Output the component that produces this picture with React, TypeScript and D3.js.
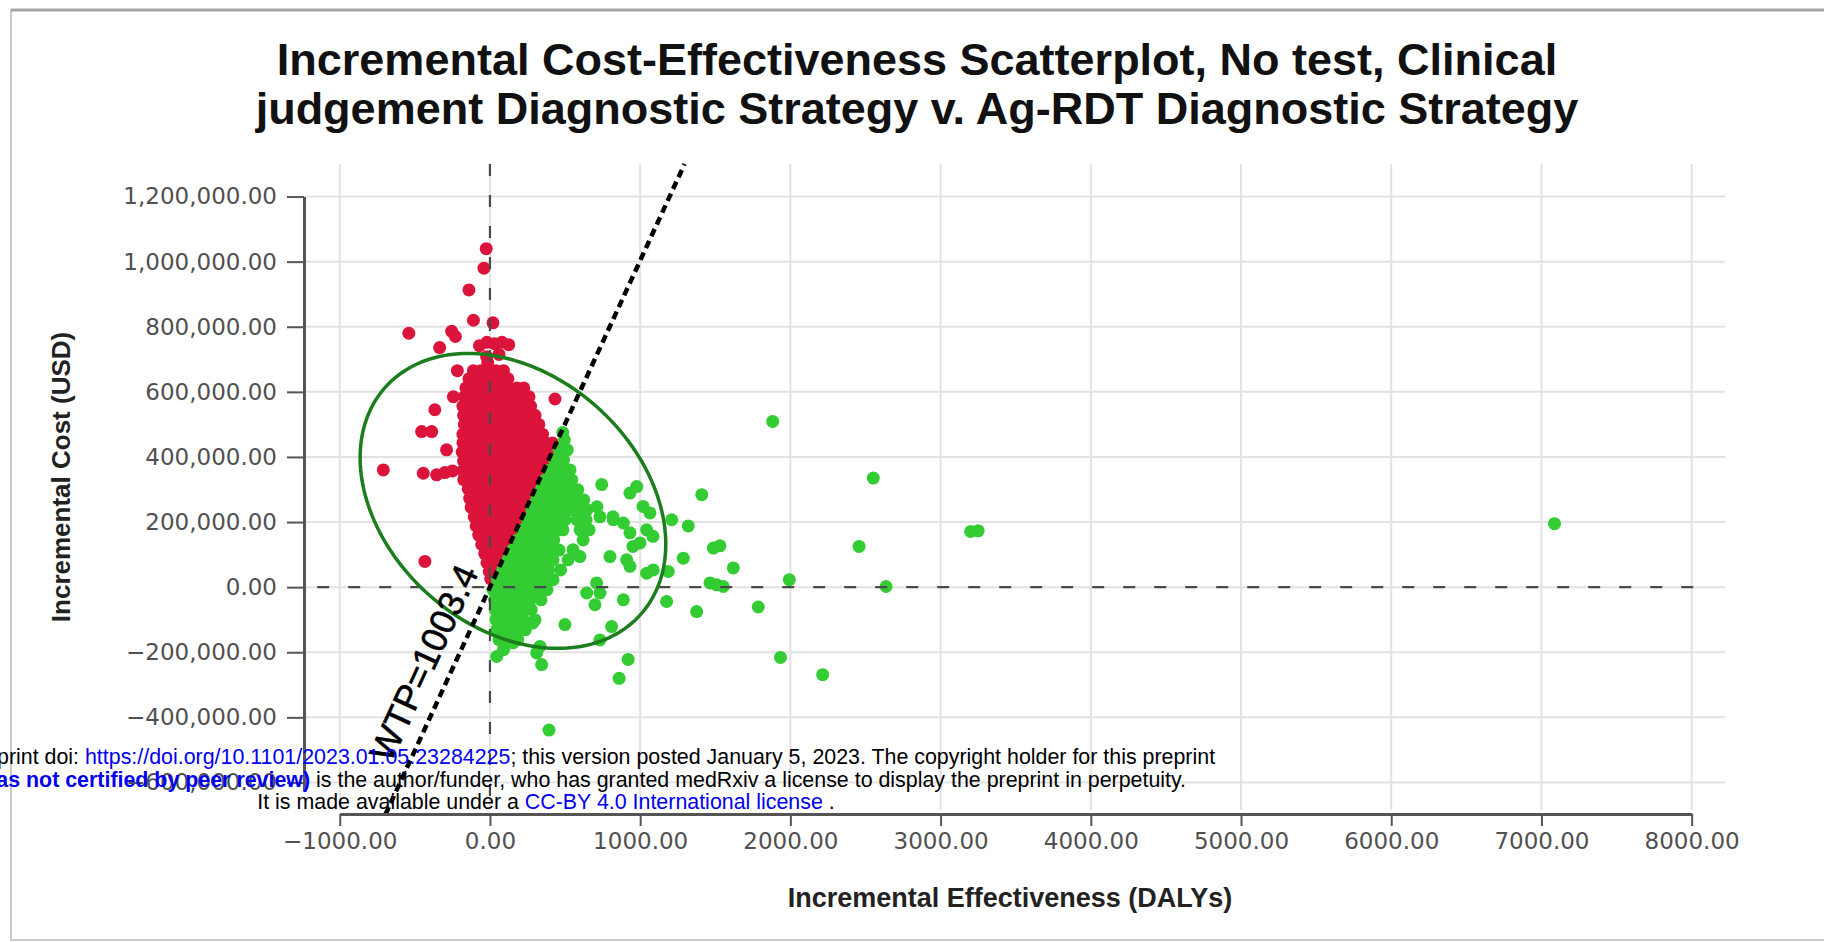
import React, { Component } from 'react';
import * as d3 from 'd3';

// chart text
const titleLines = [
  'Incremental Cost-Effectiveness Scatterplot, No test, Clinical',
  'judgement Diagnostic Strategy v. Ag-RDT Diagnostic Strategy',
];
const xTitle = 'Incremental Effectiveness (DALYs)';
const yTitle = 'Incremental Cost (USD)';

// axis ticks
const xTicks = [-1000, 0, 1000, 2000, 3000, 4000, 5000, 6000, 7000, 8000];
const yTicks = [-600000, -400000, -200000, 0, 200000, 400000, 600000, 800000, 1000000, 1200000];

// willingness to pay (USD per DALY averted)
const wtp = 1003.4;

// dense part of the cloud above the WTP line, one row per cost level: [cost, effects]
const redRows: [number, number[]][] = [
  [665e3, [-110, -60, -10, 40, 90]],
  [640e3, [-140, -85, -30, 25, 80, 120]],
  [612e3, [-160, -100, -45, 10, 65, 120, 180, 225]],
  [585e3, [-170, -115, -55, 0, 55, 110, 165, 220, 260]],
  [556e3, [-180, -120, -60, -5, 50, 105, 160, 215, 270]],
  [528e3, [-175, -125, -65, -10, 45, 100, 155, 210, 265, 300]],
  [500e3, [-170, -120, -60, 0, 55, 110, 165, 220, 275, 325]],
  [470e3, [-180, -125, -70, -15, 40, 95, 150, 205, 260, 310, 350]],
  [443e3, [-180, -130, -70, -10, 45, 100, 160, 215, 270, 320, 370, 415]],
  [415e3, [-185, -130, -70, -15, 40, 95, 150, 205, 260, 315, 360, 395]],
  [387e3, [-175, -125, -65, -10, 45, 100, 155, 210, 260, 310, 365]],
  [358e3, [-180, -130, -70, -15, 40, 95, 150, 205, 255, 300, 340]],
  [330e3, [-175, -120, -65, -10, 45, 100, 155, 205, 250, 300, 315]],
  [302e3, [-145, -100, -50, 0, 55, 110, 160, 210, 255, 285]],
  [273e3, [-135, -85, -35, 15, 70, 120, 170, 215, 255]],
  [245e3, [-125, -75, -25, 30, 85, 135, 180, 225]],
  [216e3, [-105, -55, -5, 50, 100, 150, 195]],
  [188e3, [-92, -40, 15, 65, 115, 160, 175]],
  [160e3, [-75, -20, 30, 80, 125, 145]],
  [131e3, [-55, 0, 50, 95, 118]],
  [103e3, [-35, 15, 60, 90]],
  [75e3, [-20, 25, 60]],
  [48e3, [-5, 30]],
  [25e3, [5]],
];

// loose iterations around the red cloud: [effect, cost]
const redScatter: [number, number][] = [
  [-25, 1040e3], [-40, 980e3], [-140, 913e3], [-110, 820e3], [20, 812e3],
  [-540, 780e3], [-255, 786e3], [-230, 770e3], [-335, 736e3], [-70, 742e3],
  [-20, 752e3], [30, 748e3], [80, 752e3], [125, 745e3], [-22, 708e3],
  [-15, 690e3], [60, 715e3], [-217, 665e3], [-244, 585e3], [-367, 545e3],
  [433, 578e3], [-455, 478e3], [-388, 478e3], [-289, 422e3], [-710, 360e3],
  [-444, 350e3], [-355, 345e3], [-300, 352e3], [-250, 357e3], [-433, 79e3],
];

// dense part below the WTP line: [cost, effects]
const greenRows: [number, number[]][] = [
  [452e3, [495]],
  [422e3, [460, 515]],
  [391e3, [430, 490]],
  [360e3, [400, 460, 520]],
  [330e3, [370, 430, 490, 545]],
  [299e3, [340, 400, 460, 520, 585]],
  [268e3, [310, 370, 430, 490, 560, 625]],
  [237e3, [280, 340, 400, 460, 530, 600]],
  [207e3, [250, 310, 370, 430, 500, 640]],
  [176e3, [215, 275, 335, 395, 455, 600, 660]],
  [145e3, [185, 245, 305, 365, 425, 620]],
  [114e3, [150, 210, 270, 330, 390, 460]],
  [84e3, [120, 180, 240, 300, 360, 420, 520]],
  [53e3, [85, 145, 205, 265, 325, 390, 470]],
  [23e3, [50, 110, 170, 230, 290, 350, 420]],
  [-8e3, [20, 75, 135, 195, 255, 315, 380]],
  [-39e3, [30, 90, 150, 210, 270, 340]],
  [-69e3, [35, 95, 155, 215, 275]],
  [-100e3, [40, 100, 160, 220, 300]],
  [-131e3, [45, 105, 170, 235]],
  [-161e3, [60, 120, 185]],
  [-192e3, [90]],
];

// loose iterations around / outside the green cloud: [effect, cost]
const greenScatter: [number, number][] = [
  [485, 475e3], [744, 315e3], [977, 309e3], [932, 289e3], [1019, 248e3],
  [1065, 228e3], [1210, 207e3], [1320, 188e3], [1410, 284e3], [821, 207e3],
  [888, 197e3], [932, 167e3], [1043, 176e3], [1085, 156e3], [952, 125e3],
  [999, 136e3], [799, 94e3], [910, 84e3], [932, 64e3], [1043, 43e3],
  [1087, 53e3], [1187, 48e3], [1287, 89e3], [1487, 120e3], [1531, 127e3],
  [1620, 59e3], [1465, 13e3], [1509, 7e3], [1553, 2e3], [1176, -44e3],
  [1376, -75e3], [888, -39e3], [710, 13e3], [732, -18e3], [644, -18e3],
  [699, -54e3], [499, -115e3], [810, -121e3], [732, -162e3], [45, -213e3],
  [311, -202e3], [344, -238e3], [333, -182e3], [153, -171e3], [920, -222e3],
  [860, -280e3], [153, -122e3], [220, -100e3], [286, -110e3], [553, 115e3],
  [599, 94e3], [486, 176e3], [579, 207e3], [646, 238e3], [513, 259e3],
  [599, 268e3], [712, 247e3], [732, 216e3], [819, 216e3], [466, 351e3],
  [533, 360e3], [446, 268e3], [1882, 509e3], [2552, 335e3], [2457, 125e3],
  [3200, 171e3], [3250, 173e3], [1993, 23e3], [2637, 2e3], [1786, -61e3],
  [1934, -216e3], [2215, -269e3], [7087, 195e3], [393, -439e3],
];

// 95% ellipse: centre and the two semi-axis vectors, in [DALYs, USD]
const ellipseCentre: [number, number] = [153, 265e3];
const ellipseMajor: [number, number] = [852, -348e3];
const ellipseMinor: [number, number] = [-556, -290e3];

// medRxiv stamp across the figure
const noticeLines: [string, string][][] = [
  [['medRxiv preprint doi: ', 'plain'], ['https://doi.org/10.1101/2023.01.05.23284225', 'link'], ['; this version posted January 5, 2023. The copyright holder for this preprint', 'plain']],
  [['(which was not certified by peer review)', 'bold'], [' is the author/funder, who has granted medRxiv a license to display the preprint in perpetuity.', 'plain']],
  [['It is made available under a ', 'plain'], ['CC-BY 4.0 International license', 'link'], [' .', 'plain']],
];

const W = 1824;
const H = 942;
const sans = '"Liberation Sans", Arial, sans-serif';
const tickFont = '"DejaVu Sans", sans-serif';

export default class App extends Component {
  svg: SVGSVGElement | null = null;

  componentDidMount() {
    document.body.style.margin = '0';
    document.body.style.overflow = 'hidden';
    this.drawChart();
  }

  drawChart = () => {
    const svg = d3.select(this.svg);
    svg.selectAll('*').remove();

    const x = d3.scaleLinear().domain([-1238, 8222]).range([304, 1725]);
    const y = d3.scaleLinear().domain([-700000, 1300000]).range([815, 164]);
    const axisY = 814;
    const gridBottom = 810;

    // outer frame of the figure
    svg.append('rect')
      .attr('x', 11).attr('y', 10).attr('width', W).attr('height', H - 12)
      .attr('fill', 'none').attr('stroke', '#c9c9c9').attr('stroke-width', 2);
    svg.append('line')
      .attr('x1', 11).attr('x2', W).attr('y1', 10).attr('y2', 10)
      .attr('stroke', '#a5a5a5').attr('stroke-width', 3);

    // grid
    const grid = svg.append('g').attr('stroke', '#e2e2e2').attr('stroke-width', 2);
    grid.selectAll('line.v').data(xTicks).join('line')
      .attr('class', 'v')
      .attr('x1', d => x(d)).attr('x2', d => x(d))
      .attr('y1', y(1300000)).attr('y2', gridBottom);
    grid.selectAll('line.h').data(yTicks).join('line')
      .attr('class', 'h')
      .attr('x1', x.range()[0]).attr('x2', x.range()[1])
      .attr('y1', d => y(d)).attr('y2', d => y(d));

    // iterations, coloured by the WTP threshold
    const points: [number, number][] = [];
    redRows.forEach(([c, es]) => es.forEach(e => points.push([e, c])));
    redScatter.forEach(p => points.push(p));
    greenRows.forEach(([c, es]) => es.forEach(e => points.push([e, c])));
    greenScatter.forEach(p => points.push(p));

    svg.append('g')
      .selectAll('circle')
      .data(points)
      .join('circle')
      .attr('cx', d => x(d[0]))
      .attr('cy', d => y(d[1]))
      .attr('r', 6.5)
      .attr('fill', d => (d[1] > wtp * d[0] ? '#dc143c' : '#33cc33'));

    // zero reference lines
    svg.append('line')
      .attr('x1', x(-1150)).attr('x2', x(8070))
      .attr('y1', y(0)).attr('y2', y(0))
      .attr('stroke', '#4a4a4a').attr('stroke-width', 2.2)
      .attr('stroke-dasharray', '12,19');
    svg.append('line')
      .attr('x1', x(0)).attr('x2', x(0))
      .attr('y1', y(1300000)).attr('y2', gridBottom)
      .attr('stroke', '#4a4a4a').attr('stroke-width', 2.2)
      .attr('stroke-dasharray', '12,19');

    // ellipse
    const angles = d3.range(0, 360, 2).map(a => (a * Math.PI) / 180);
    const ellipse = d3.line<number>()
      .x(t => x(ellipseCentre[0] + ellipseMajor[0] * Math.cos(t) + ellipseMinor[0] * Math.sin(t)))
      .y(t => y(ellipseCentre[1] + ellipseMajor[1] * Math.cos(t) + ellipseMinor[1] * Math.sin(t)))
      .curve(d3.curveLinearClosed);
    svg.append('path')
      .attr('d', ellipse(angles))
      .attr('fill', 'none')
      .attr('stroke', '#1b7d1b')
      .attr('stroke-width', 3.5);

    // WTP line over the visible cost range
    const [cLo, cHi] = y.domain();
    svg.append('line')
      .attr('x1', x(cLo / wtp)).attr('y1', y(cLo))
      .attr('x2', x(cHi / wtp)).attr('y2', y(cHi))
      .attr('stroke', '#000').attr('stroke-width', 4.5)
      .attr('stroke-dasharray', '8,5');

    const angle = (Math.atan2(y(wtp * 1000) - y(0), x(1000) - x(0)) * 180) / Math.PI;
    svg.append('text')
      .attr('transform', `translate(${x(25)},${y(25 * wtp)}) rotate(${angle})`)
      .attr('y', -16)
      .attr('text-anchor', 'end')
      .attr('font-family', sans)
      .attr('font-size', 36)
      .attr('fill', '#000')
      .attr('stroke', '#000')
      .attr('stroke-width', 0.6)
      .text(`WTP=${wtp}`);

    // axes
    const xAxisScale = x.copy().domain([-1000, 8000]).range([x(-1000), x(8000)]);
    const gx = svg.append('g')
      .attr('transform', `translate(0,${axisY})`)
      .call(d3.axisBottom(xAxisScale).tickValues(xTicks).tickFormat(d3.format('.2f')).tickSize(12).tickSizeOuter(0).tickPadding(7));
    gx.select('.domain').attr('stroke', '#555').attr('stroke-width', 3);
    gx.selectAll('.tick line').attr('stroke', '#555').attr('stroke-width', 2);
    gx.selectAll('.tick text').attr('font-family', tickFont).attr('font-size', 23).attr('fill', '#505050');

    const yAxisScale = y.copy().domain([-625000, 1200000]).range([y(-625000), y(1200000)]);
    const gy = svg.append('g')
      .attr('transform', `translate(${x.range()[0]},0)`)
      .call(d3.axisLeft(yAxisScale).tickValues(yTicks).tickFormat(d3.format(',.2f')).tickSize(17).tickSizeOuter(0).tickPadding(10));
    gy.select('.domain').attr('stroke', '#555').attr('stroke-width', 3);
    gy.selectAll('.tick line').attr('stroke', '#555').attr('stroke-width', 2);
    gy.selectAll('.tick text').attr('font-family', tickFont).attr('font-size', 23).attr('fill', '#505050');

    // titles
    svg.append('g')
      .selectAll('text')
      .data(titleLines)
      .join('text')
      .attr('x', 917)
      .attr('y', (d, i) => 75 + i * 49)
      .attr('text-anchor', 'middle')
      .attr('font-family', sans)
      .attr('font-weight', 'bold')
      .attr('font-size', 45)
      .attr('fill', '#111')
      .text(d => d);

    svg.append('text')
      .attr('x', 1010).attr('y', 907)
      .attr('text-anchor', 'middle')
      .attr('font-family', sans).attr('font-weight', 'bold').attr('font-size', 27)
      .attr('fill', '#222')
      .text(xTitle);

    svg.append('text')
      .attr('transform', 'translate(70,477) rotate(-90)')
      .attr('text-anchor', 'middle')
      .attr('font-family', sans).attr('font-weight', 'bold').attr('font-size', 26)
      .attr('fill', '#222')
      .text(yTitle);

    // preprint notice on top
    const notice = svg.append('g')
      .attr('font-family', sans)
      .attr('font-size', 21.4)
      .attr('text-anchor', 'middle');
    noticeLines.forEach((segs, i) => {
      const t = notice.append('text')
        .attr('x', 546)
        .attr('y', 764 + i * 22.5)
        .attr('xml:space', 'preserve');
      segs.forEach(([s, kind]) => {
        t.append('tspan')
          .attr('fill', kind === 'plain' ? '#000' : '#0000ee')
          .attr('font-weight', kind === 'bold' ? 'bold' : 'normal')
          .text(s);
      });
    });
  }

  render() {
    return (
      <svg
        ref={svg => { this.svg = svg; }}
        width={W}
        height={H}
        style={{ position: 'absolute', left: 0, top: 0, display: 'block', background: '#fff' }}
      />
    );
  }
}
